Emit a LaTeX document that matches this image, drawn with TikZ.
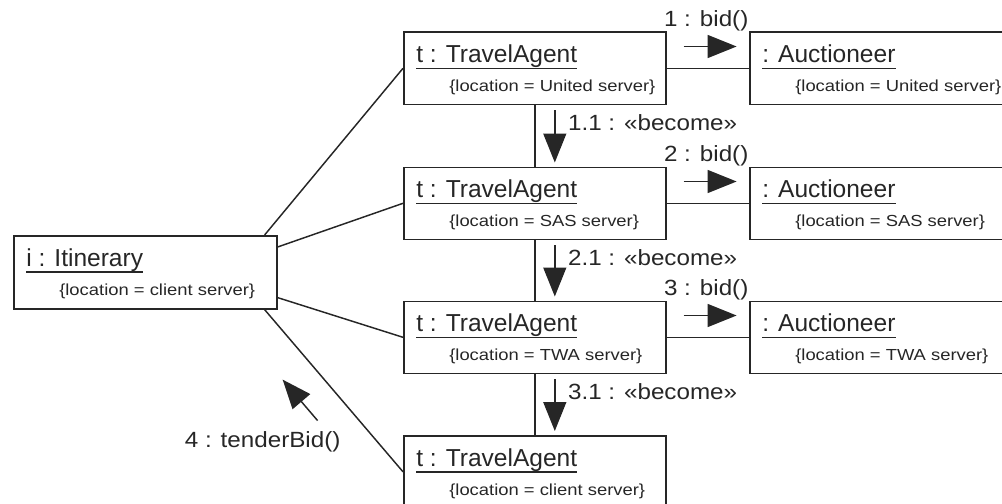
\documentclass[tikz,border=0pt]{standalone}
\usepackage{fontspec}
\setmainfont{Liberation Sans}
\newfontfamily\namefont{Liberation Sans}
\newfontfamily\locfont[FakeStretch=1.15]{Liberation Sans}
\newfontfamily\labfont[FakeStretch=1.1]{Liberation Sans}
\usetikzlibrary{arrows.meta,calc}
\definecolor{ink}{HTML}{262626}
\tikzset{
  obj/.style={draw=ink, line width=1.2pt, minimum width=196.5pt, minimum height=54pt,
              anchor=north west, inner sep=0pt},
  nametext/.style={anchor=base west, inner sep=0pt, text=ink,
              font=\namefont\fontsize{18.4pt}{20pt}\selectfont},
  loctext/.style={anchor=base west, inner sep=0pt, text=ink,
              font=\locfont\fontsize{12pt}{14pt}\selectfont},
  msglabel/.style={inner sep=0pt, text=ink,
              font=\labfont\fontsize{16.5pt}{18pt}\selectfont},
  uline/.style={draw=ink, line width=1.1pt},
  link/.style={draw=ink, line width=1.1pt},
  msg/.style={draw=ink, line width=1.1pt, -{Triangle[length=21.75pt,width=17.25pt]}}
}
\newcommand\objtext[3]{%
  \node[nametext] (#1n) at ($(#1.north west)+(13,31)$) {#2};
  \draw[uline] ($(#1n.base west)+(0,6)$) -- ($(#1n.base east)+(0,6)$);
  \node[loctext] (#1l) at ($(#1.north west)+(46,60)$) {#3};
}
\begin{document}
\begin{tikzpicture}[x=0.75pt, y=-0.75pt]
\useasboundingbox (0,0) rectangle (1002,503);
\clip (0,0) rectangle (1002,503);

% objects
\node[obj] (ta1) at (403,31.5) {};
\node[obj] (ta2) at (403,166.5) {};
\node[obj] (ta3) at (403,300.5) {};
\node[obj] (ta4) at (403,435) {};
\node[obj, minimum width=194.25pt] (au1) at (749,31.5) {};
\node[obj, minimum width=194.25pt] (au2) at (749,166.5) {};
\node[obj, minimum width=194.25pt] (au3) at (749,300.5) {};
\node[obj, minimum width=197.25pt, minimum height=54.75pt] (it) at (13,235) {};

\objtext{ta1}{t : TravelAgent}{\{location = United server\}}
\objtext{ta2}{t : TravelAgent}{\{location = SAS server\}}
\objtext{ta3}{t : TravelAgent}{\{location = TWA server\}}
\objtext{ta4}{t : TravelAgent}{\{location = client server\}}
\objtext{au1}{: Auctioneer}{\{location = United server\}}
\objtext{au2}{: Auctioneer}{\{location = SAS server\}}
\objtext{au3}{: Auctioneer}{\{location = TWA server\}}
\objtext{it}{i : Itinerary}{\{location = client server\}}

% links
\draw[link] (ta1.east) -- (au1.west);
\draw[link] (ta2.east) -- (au2.west);
\draw[link] (ta3.east) -- (au3.west);
\draw[link] (ta1.south) -- (ta2.north);
\draw[link] (ta2.south) -- (ta3.north);
\draw[link] (ta3.south) -- (ta4.north);
\draw[link] ($(it.north east)+(-13,0)$) -- (ta1.west);
\draw[link] ($(it.north east)+(0,12)$) -- (ta2.west);
\draw[link] ($(it.south east)+(0,-12)$) -- (ta3.west);
\draw[link] ($(it.south east)+(-13,0)$) -- (ta4.west);

% bid() messages
\foreach \t/\n in {ta1/1, ta2/2, ta3/3}{
  \coordinate (s\n) at ($(\t.north east)+(17,15)$);
  \coordinate (e\n) at ($(\t.north east)+(70,15)$);
  \draw[msg] (s\n) -- (e\n);
  \node[msglabel, anchor=east] (bl\n) at ($(e\n)+(12,-26)$) {\n\ : bid()};
}

% become messages
\foreach \u/\d/\k/\n in {ta1/ta2/a/1.1, ta2/ta3/b/2.1, ta3/ta4/c/3.1}{
  \coordinate (bs\k) at ($(\u.south)+(20,5)$);
  \coordinate (be\k) at ($(\d.north)+(20,-4)$);
  \draw[msg] (bs\k) -- (be\k);
  \node[msglabel, anchor=west] (bc\k) at ($(\u.south)+(33,18)$) {\n\ : «become»};
}

% tenderBid message
\coordinate (m4a) at ($(it.south east)+(40,111)$);
\coordinate (m4b) at ($(it.south east)+(5,70)$);
\draw[msg] (m4a) -- (m4b);
\node[msglabel, anchor=west] (tb) at ($(it.south east)+(-93,132)$) {4 : tenderBid()};
\end{tikzpicture}
\end{document}
